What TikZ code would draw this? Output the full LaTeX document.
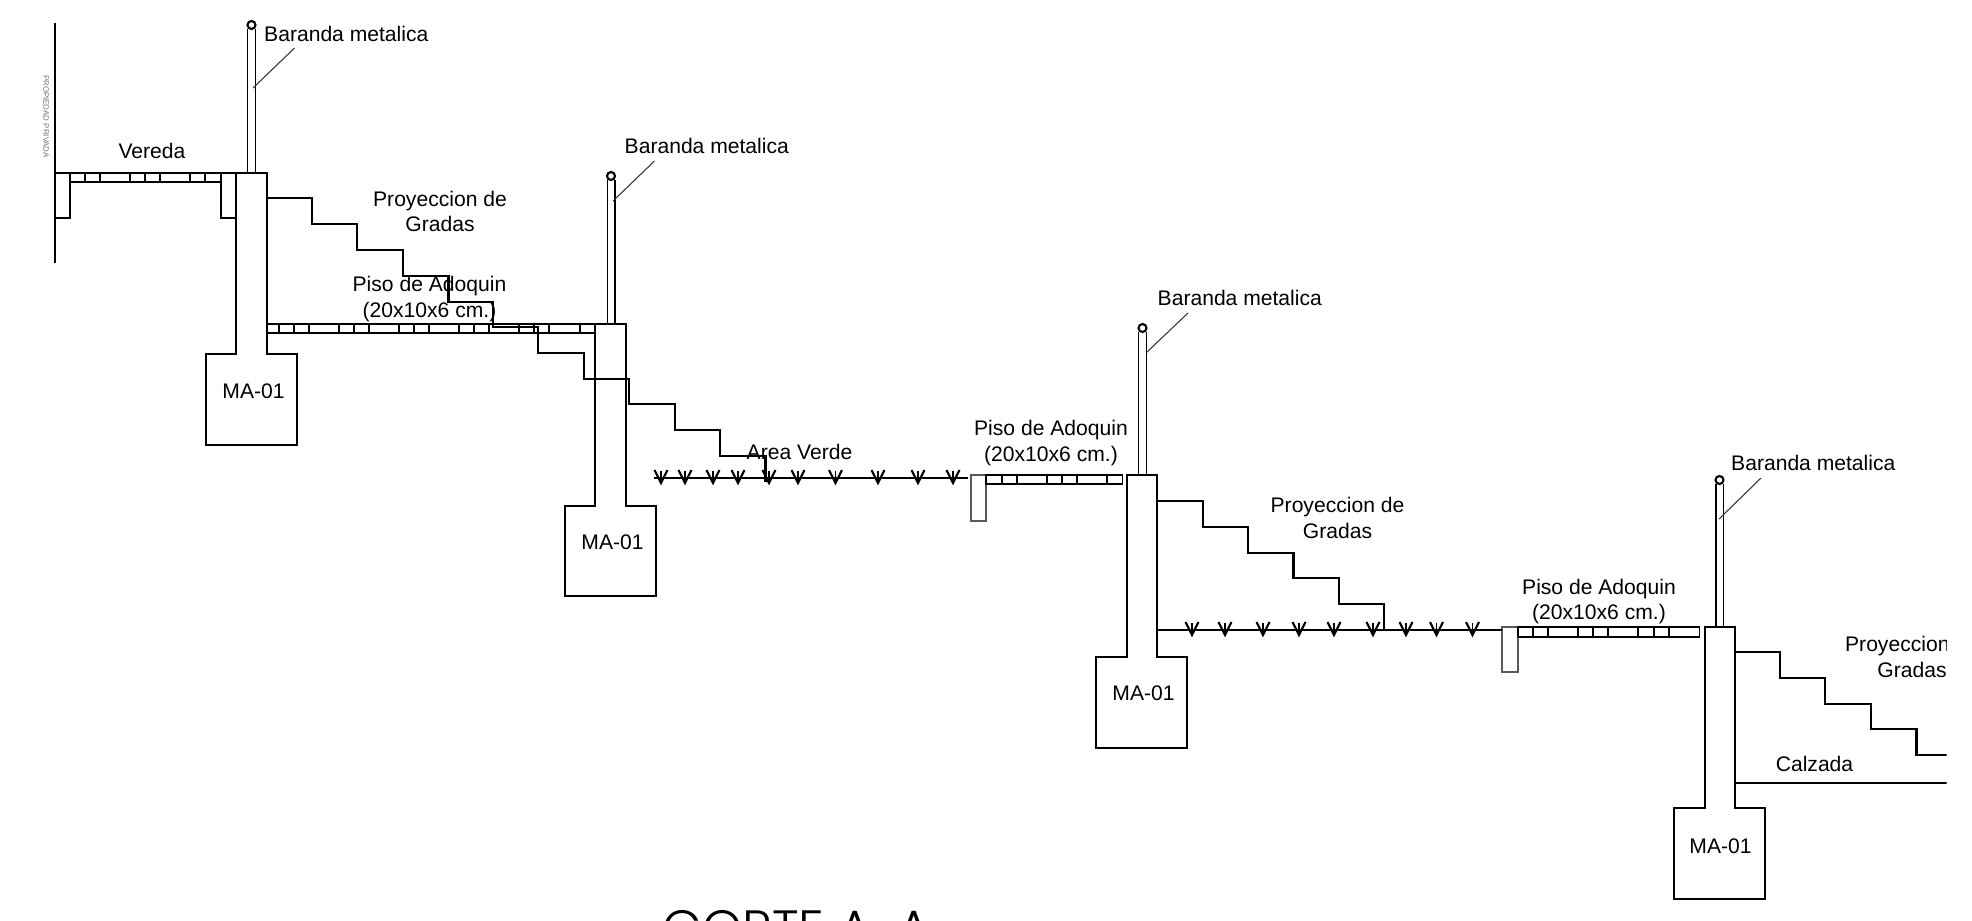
\documentclass[tikz,border=0pt]{standalone}
\usepackage{fontspec}
\setmainfont{Liberation Sans}
\newfontfamily\titlefont{Poppins Light}

\tikzset{
  wall/.style={black, line width=0.6pt},
  thinwall/.style={black, line width=0.45pt},
  railing/.style={black, line width=0.5pt},
  curb/.style={black!65, line width=0.35pt},
  leader/.style={black!80, line width=0.3pt},
  lab/.style={font=\fontsize{6}{7.3}\selectfont, align=center, inner sep=0pt},
  planta/.pic={
    \draw[wall] (-6.5,-8) -- (0,5) -- (6.5,-8);
    \draw[thinwall] (0,-7) -- (0,5);
  }
}

\begin{document}
\begin{tikzpicture}[x=0.01cm,y=-0.01cm]
  \useasboundingbox (0,0) rectangle (1972,921);

  % property line and sidewalk
  \draw[wall] (55,23) -- (55,263);
  \draw[wall] (55,173) -- (236,173);
  \draw[wall] (70,182) -- (221,182);
  \draw[wall] (55,218) -- (70,218) -- (70,173);
  \draw[wall] (221,173) -- (221,218) -- (236,218);
  \draw[thinwall] (85,173) -- (85,182)  (100,173) -- (100,182)
    (130,173) -- (130,182)  (145,173) -- (145,182)  (160,173) -- (160,182)
    (190,173) -- (190,182)  (205,173) -- (205,182);

  % piers and footings
  \draw[wall] (236,173) -- (267,173) -- (267,354) -- (297,354) -- (297,445) -- (206,445) -- (206,354) -- (236,354) -- cycle;
  \draw[wall] (595,324) -- (626,324) -- (626,506) -- (656,506) -- (656,596) -- (565,596) -- (565,506) -- (595,506) -- cycle;
  \draw[wall] (1127,475) -- (1157,475) -- (1157,657) -- (1187,657) -- (1187,748) -- (1096,748) -- (1096,657) -- (1127,657) -- cycle;
  \draw[wall] (1705,627) -- (1735,627) -- (1735,808) -- (1765,808) -- (1765,899) -- (1674,899) -- (1674,808) -- (1705,808) -- cycle;

  % railings
  \draw[railing] (247.5,29) -- (247.5,173)  (255.5,29) -- (255.5,173);
  \draw[wall] (251.5,25) circle (4);
  \draw[railing] (607.5,180) -- (607.5,324)  (615,180) -- (615,324);
  \draw[wall] (611,176) circle (4);
  \draw[railing] (1138.5,332) -- (1138.5,475)  (1146.5,332) -- (1146.5,475);
  \draw[wall] (1142.5,328) circle (4);
  \draw[railing] (1716,484) -- (1716,627)  (1723.5,484) -- (1723.5,627);
  \draw[wall] (1719.5,480) circle (4);

  % leaders
  \coordinate (rail1) at (253,88);
  \coordinate (rail2) at (613,201);
  \coordinate (rail3) at (1147,352);
  \coordinate (rail4) at (1719,519);
  \coordinate (free1) at (294.5,48);
  \coordinate (free2) at (654.5,161);
  \coordinate (free3) at (1188,313);
  \coordinate (free4) at (1761,478);
  \draw[leader] (rail1) -- (free1);
  \draw[leader] (rail2) -- (free2);
  \draw[leader] (rail3) -- (free3);
  \draw[leader] (rail4) -- (free4);

  % stairs
  \draw[wall] (267,198) -- (312,198) -- (312,224) -- (357,224) -- (357,250) -- (403,250) -- (403,276) -- (448.5,276)
    -- (448.5,302) -- (493,302) -- (493,327) -- (538,327) -- (538,353) -- (584,353) -- (584,379) -- (629,379)
    -- (629,404) -- (675,404) -- (675,430) -- (720,430) -- (720,456) -- (765.5,456) -- (765.5,482);
  \draw[wall] (1157,501) -- (1203,501) -- (1203,527) -- (1248,527) -- (1248,553) -- (1293.5,553)
    -- (1293.5,578) -- (1339,578) -- (1339,604) -- (1384,604) -- (1384,630);

  % adoquin floors
  \draw[wall] (267,324) -- (595,324)  (267,333) -- (595,333);
  \draw[thinwall] (279,324) -- (279,333)  (294,324) -- (294,333)  (309,324) -- (309,333)
    (339,324) -- (339,333)  (354,324) -- (354,333)  (369,324) -- (369,333)
    (399,324) -- (399,333)  (414,324) -- (414,333)  (429,324) -- (429,333)
    (459,324) -- (459,333)  (474,324) -- (474,333)  (489,324) -- (489,333)
    (519,324) -- (519,333)  (534,324) -- (534,333)  (549,324) -- (549,333)
    (580,324) -- (580,333);
  \draw[curb] (971,475) rectangle (986,521);
  \draw[thinwall] (986,475) rectangle (1122.5,484);
  \draw[thinwall] (1002,475) -- (1002,484)  (1017,475) -- (1017,484)  (1047,475) -- (1047,484)
    (1062,475) -- (1062,484)  (1077,475) -- (1077,484)  (1107,475) -- (1107,484);
  \draw[curb] (1502,627) rectangle (1518,672);
  \draw[thinwall] (1518,627) rectangle (1699.5,637);
  \draw[thinwall] (1533,627) -- (1533,637)  (1548,627) -- (1548,637)  (1578,627) -- (1578,637)
    (1593,627) -- (1593,637)  (1608,627) -- (1608,637)  (1638,627) -- (1638,637)
    (1654,627) -- (1654,637)  (1669,627) -- (1669,637);

  % green areas
  \draw[wall] (654,478) -- (968,478);
  \pic at (661,478) {planta};
  \pic at (685,478) {planta};
  \pic at (713,478) {planta};
  \pic at (738,478) {planta};
  \pic at (769,478) {planta};
  \pic at (798,478) {planta};
  \pic at (835.5,478) {planta};
  \pic at (878,478) {planta};
  \pic at (918,478) {planta};
  \pic at (953,478) {planta};
  \draw[wall] (1157,630) -- (1502,630);
  \pic at (1192,630) {planta};
  \pic at (1225,630) {planta};
  \pic at (1263,630) {planta};
  \pic at (1299,630) {planta};
  \pic at (1334,630) {planta};
  \pic at (1373,630) {planta};
  \pic at (1406,630) {planta};
  \pic at (1436.5,630) {planta};
  \pic at (1472.5,630) {planta};

  % right part, cut off at the sheet edge
  \begin{scope}
    \clip (0,0) rectangle (1946.5,921);
    \draw[wall] (1735,652) -- (1780,652) -- (1780,678) -- (1825,678) -- (1825,704) -- (1871,704) -- (1871,729)
      -- (1916.5,729) -- (1916.5,755) -- (1960,755);
    \draw[wall] (1735,783) -- (1960,783);
    \node[lab] (proy3) at (1912,657) {Proyeccion de\\Gradas};
  \end{scope}

  % labels
  \node[lab, font=\fontsize{2.25}{2.25}\selectfont, black!55, rotate=-90] (propiedad) at (46,116.5) {PROPIEDAD PRIVADA};
  \node[lab] (vereda) at (152,151) {Vereda};
  \node[lab, anchor=west] (bar1) at (263.5,34) {Baranda metalica};
  \node[lab, anchor=west] (bar2) at (624,146) {Baranda metalica};
  \node[lab, anchor=west] (bar3) at (1157,298) {Baranda metalica};
  \node[lab, anchor=west] (bar4) at (1730.5,463) {Baranda metalica};
  \node[lab] (proy1) at (440,211.5) {Proyeccion de\\Gradas};
  \node[lab] (proy2) at (1337.5,518) {Proyeccion de\\Gradas};
  \node[lab] (piso1) at (429.5,299) {Piso de Adoquin\\(20x10x6 cm.)};
  \node[lab] (piso2) at (1051,443) {Piso de Adoquin\\(20x10x6 cm.)};
  \node[lab] (piso3) at (1599,601.5) {Piso de Adoquin\\(20x10x6 cm.)};
  \node[lab] (area) at (799.5,452) {Area Verde};
  \node[lab] (calzada) at (1814.5,764) {Calzada};
  \node[lab] (ma1) at (253.5,391) {MA-01};
  \node[lab] (ma2) at (612.5,542) {MA-01};
  \node[lab] (ma3) at (1143.5,693) {MA-01};
  \node[lab] (ma4) at (1720.5,846) {MA-01};
  \node[lab, font=\titlefont\fontsize{14.5}{14.5}\selectfont, anchor=base west] (corte) at (662,946) {CORTE A-A};
\end{tikzpicture}
\end{document}
